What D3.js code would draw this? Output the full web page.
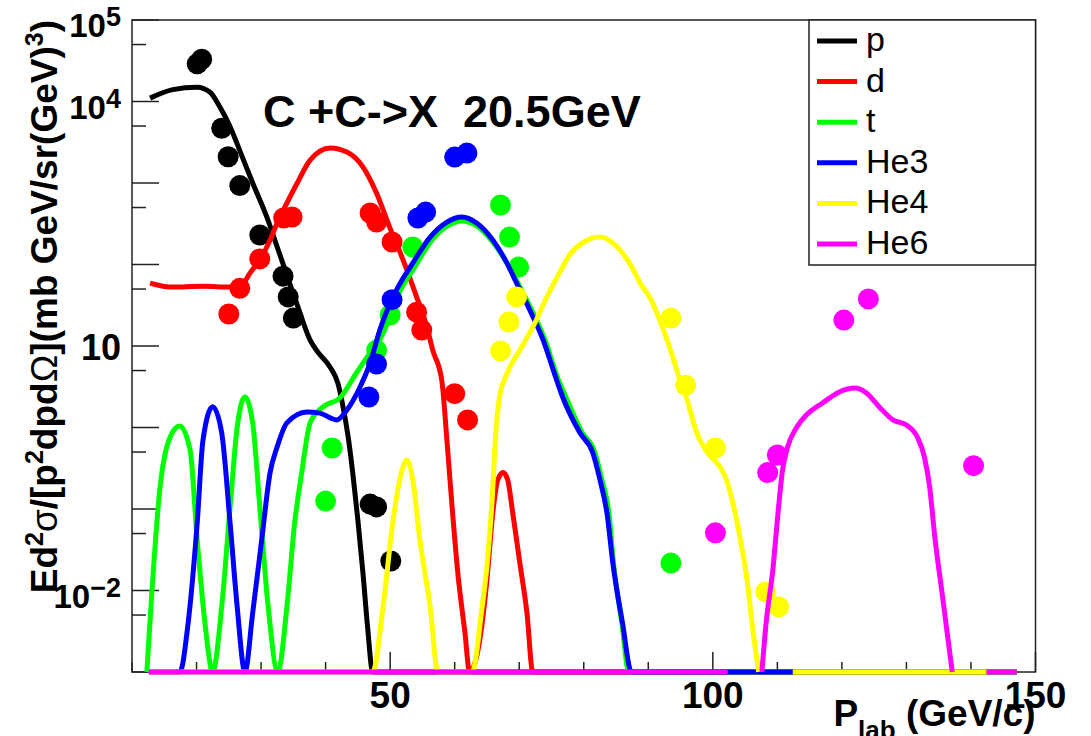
<!DOCTYPE html>
<html>
<head>
<meta charset="utf-8">
<script src="https://cdn.jsdelivr.net/npm/d3@7"></script>
<style>
body { margin: 0; background: #fff; }
svg { font-family: "Liberation Sans", Arial, Helvetica, sans-serif; }
.bold { font-weight: bold; }
.title { font-weight: bold; white-space: pre; }
</style>
</head>
<body>
<div id="chart"></div>
<script>
// species shown in the legend (drawing order)
var species = ["p", "d", "t", "He3", "He4", "He6"];
var colors = ["#000000", "#ff0000", "#00ff00", "#0000ff", "#ffff00", "#ff00ff"];

var xTicks = [10, 20, 30, 40, 50, 60, 70, 80, 90, 100, 110, 120, 130, 140, 150];
var xLabels = [50, 100, 150];
var yDecades = [1e-3, 1e-2, 1e-1, 1, 10, 1e2, 1e3, 1e4, 1e5];
var yHalf = [5e-3, 5e-2, 5e-1, 5, 50, 5e2, 5e3, 5e4];
var yLabels = [{v: 1e5, base: "10", exp: "5"}, {v: 1e4, base: "10", exp: "4"},
               {v: 10, base: "10", exp: ""}, {v: 1e-2, base: "10", exp: "\u22122"}];

// model curves: [P_lab, value]; 0 = below the axis minimum, null = gap
var pCurve = [[12.8,1.1e4],[16.3,1.4e4],[20.1,1.5e4],[22.1,1.3e4],[23.6,8.6e3],[25.2,4.9e3],[26.7,2.5e3],
  [28.7,1.0e3],[30.9,380],[32.5,164],[35.6,32],[37.6,11.8],[38.8,8.4],[40.7,5.5],[41.9,3.5],[42.7,1.8],
  [43.5,0.76],[44.2,0.28],[45.0,0.073],[45.8,0.016],[46.5,0.0036],[47.3,0],[147.1,0]];

var dCurve = [[12.8,59],[15.9,53],[21.0,54],[25.2,53],[27.0,56],[28.3,79],[29.8,114],[31.4,200],[32.5,323],
  [33.7,508],[35.6,1000],[37.6,1910],[40.7,2690],[43.3,2400],[45.8,1570],[47.9,750],[49.9,290],[52.0,114],
  [54.1,40],[55.7,17],[56.6,8.9],[58.0,3.8],[58.8,0.70],[59.6,0.106],[60.5,0.016],[61.6,0.003],[62.3,0],
  [63.9,0.0025],[65.0,0.0135],[65.9,0.089],[66.7,0.23],[67.5,0.28],[68.2,0.23],[69.0,0.089],[70.1,0.0217],
  [71.2,0.0053],[72.1,0],[147.1,0]];

var tCurve = [[12.3,0],[13.1,0.0101],[14.3,0.171],[15.9,0.76],[17.4,1.04],[19.0,0.53],[20.1,0.042],[21.3,0.004],
  [22.5,0],[23.9,0.0063],[25.2,0.106],[26.3,1.01],[27.5,2.37],[28.7,1.14],[29.8,0.106],[31.1,0.0063],[32.6,0],
  [34.0,0.0063],[35.2,0.067],[36.3,0.28],[37.6,1.14],[39.6,1.79],[42.2,2.3],[44.8,4.7],[46.9,8.2],[48.1,10.9],
  [48.9,14.4],[51.4,45],[53.8,93],[56.5,200],[58.9,297],[61.1,342],[63.4,297],[65.9,189],[68.2,101],[69.8,59],
  [71.8,29],[74.0,11.9],[76.1,3.8],[77.1,2.5],[79.7,0.88],[81.7,0.50],[82.8,0.23],[83.9,0.089],[84.6,0.022],
  [85.9,0.004],[87.0,0],[147.1,0]];

var he3Curve = [[12.6,0],[17.4,0],[18.7,0.004],[20.1,0.067],[21.0,0.70],[22.5,1.8],[23.9,0.86],[25.2,0.067],
  [26.3,0.0063],[27.5,0],[28.7,0.0053],[30.1,0.042],[31.4,0.28],[32.5,0.58],[34.0,1.14],[37.1,1.55],[39.1,1.5],
  [41.7,1.24],[43.3,1.64],[45.3,3.1],[46.9,6.2],[48.4,15.7],[51.0,49],[53.5,104],[56.2,217],[58.8,332],[61.1,383],
  [63.4,323],[65.9,200],[68.1,104],[69.6,59],[71.6,28],[73.7,11.9],[75.8,3.8],[76.7,2.4],[79.4,0.86],[81.4,0.49],
  [82.5,0.23],[83.6,0.089],[84.5,0.022],[86.0,0.004],[87.4,0],[112.4,0]];

var he4Curve = [[12.6,0],[47.3,0],[48.9,0.0063],[50.4,0.067],[51.5,0.23],[52.6,0.40],[53.5,0.23],[54.6,0.042],
  [56.2,0.0063],[57.4,0],[62.7,0],[64.2,0.0058],[65.1,0.024],[65.8,0.129],[66.4,0.93],[67.0,2.5],[67.8,4.0],
  [68.5,5.4],[70.1,8.9],[72.1,17],[74.3,40],[76.3,81],[77.8,131],[79.8,184],[82.5,217],[84.5,184],[87.1,104],
  [89.1,53],[90.2,40],[92.2,17],[93.8,7.3],[94.9,3.8],[96.0,2.2],[97.5,0.86],[99.1,0.50],[101.1,0.33],[102.1,0.23],
  [103.1,0.119],[104.2,0.045],[105.3,0.0135],[106.2,0.0033],[107.1,0],null,[112.4,0],[142.4,0]];

var he6Curve = [[12.6,0],[102.3,0],null,[107.6,0],[108.3,0.0043],[109.3,0.018],[110.0,0.073],[110.8,0.30],
  [111.6,0.58],[113.0,1.01],[114.5,1.42],[117.0,2.0],[119.6,2.73],[122.0,3.05],[123.8,2.65],[125.8,1.79],
  [127.9,1.24],[130.0,1.07],[131.7,0.76],[132.8,0.43],[133.6,0.186],[134.4,0.045],[135.4,0.011],[136.4,0.0027],
  [137.1,0],null,[142.4,0],[147.1,0]];

// measured points: [P_lab, value]
var pPoints = [[20.1,2.9e4],[20.8,3.3e4],[23.9,4.7e3],[24.9,2.1e3],[26.7,930],[29.8,230],[33.4,72],[34.2,40],
  [35.0,22],[46.9,0.115],[47.9,0.106],[50.1,0.023]];
var dPoints = [[25.0,24.7],[26.7,51],[29.8,117],[33.5,372],[34.8,383],[46.9,429],[47.9,332],[50.3,189],
  [54.1,26],[54.9,15.7],[60.0,2.6],[62.0,1.24]];
var tPoints = [[40.0,0.125],[41.0,0.56],[47.9,8.9],[50.0,24],[53.5,164],[67.1,537],[68.5,217],[69.9,93],[93.5,0.0217]];
var he3Points = [[46.7,2.37],[47.9,6.0],[50.3,37],[54.3,372],[55.5,440],[60.0,2080],[61.9,2330]];
var he4Points = [[67.1,8.7],[68.4,19.7],[69.6,40],[93.5,22],[95.8,3.3],[100.4,0.56],[108.2,0.0096],[110.2,0.0063]];
var he6Points = [[100.4,0.051],[108.5,0.28],[110.0,0.46],[120.3,20.8],[124.1,37.8],[140.4,0.34]];

var curves = [pCurve, dCurve, tCurve, he3Curve, he4Curve, he6Curve];
var points = [pPoints, dPoints, tPoints, he3Points, he4Points, he6Points];

var W = 1091, H = 736;
var margin = {left: 132, right: 55.5, top: 20, bottom: 64};

var svg = d3.select("#chart").append("svg")
    .attr("width", W)
    .attr("height", H);

var x = d3.scaleLinear().domain([10, 150]).range([margin.left, W - margin.right]);
var y = d3.scaleLog().domain([1e-3, 1e5]).range([H - margin.bottom, margin.top]);
var yMin = 1e-3;

function yv(v) { return y(Math.max(v, yMin)); }

// frame
svg.append("rect")
    .attr("x", x(10)).attr("y", y(1e5))
    .attr("width", x(150) - x(10)).attr("height", y(1e-3) - y(1e5))
    .attr("fill", "none").attr("stroke", "#222").attr("stroke-width", 1.5);

// x ticks
svg.append("g").selectAll("line")
    .data(xTicks).enter().append("line")
    .attr("x1", function(d){ return x(d); })
    .attr("x2", function(d){ return x(d); })
    .attr("y1", y(1e-3))
    .attr("y2", function(d){ return y(1e-3) - (d % 50 === 0 ? 20 : 10); })
    .attr("stroke", "#222").attr("stroke-width", 1.5);

svg.append("g").selectAll("text")
    .data(xLabels).enter().append("text")
    .attr("class", "bold")
    .attr("x", function(d){ return x(d); })
    .attr("y", 708)
    .attr("text-anchor", "middle")
    .style("font-size", "37px")
    .text(function(d){ return d; });

// y ticks
svg.append("g").selectAll("line")
    .data(yDecades).enter().append("line")
    .attr("x1", x(10)).attr("x2", x(10) + 27)
    .attr("y1", function(d){ return y(d); })
    .attr("y2", function(d){ return y(d); })
    .attr("stroke", "#222").attr("stroke-width", 1.5);

svg.append("g").selectAll("line")
    .data(yHalf).enter().append("line")
    .attr("x1", x(10)).attr("x2", x(10) + 14)
    .attr("y1", function(d){ return y(d); })
    .attr("y2", function(d){ return y(d); })
    .attr("stroke", "#222").attr("stroke-width", 1.5);

var yl = svg.append("g").selectAll("text")
    .data(yLabels).enter().append("text")
    .attr("class", "bold")
    .attr("x", 121)
    .attr("y", function(d){ return y(d.v) + (d.exp ? 17 : 14); })
    .attr("text-anchor", "end")
    .style("font-size", function(d){ return d.exp ? "33px" : "36px"; });
yl.append("tspan").text(function(d){ return d.base; });
yl.append("tspan")
    .attr("dy", function(d){ return d.exp ? -11 : 0; })
    .style("font-size", "27px")
    .text(function(d){ return d.exp; });

// axis titles
var yt = svg.append("text")
    .attr("class", "bold")
    .attr("transform", "translate(57," + margin.top + ") rotate(-90)")
    .attr("text-anchor", "end")
    .style("font-size", "37px");
yt.append("tspan").text("Ed");
yt.append("tspan").attr("dy", -14).style("font-size", "25px").text("2");
yt.append("tspan").attr("dy", 14).style("font-weight", "normal").text("\u03c3");
yt.append("tspan").text("/[p");
yt.append("tspan").attr("dy", -14).style("font-size", "25px").text("2");
yt.append("tspan").attr("dy", 14).text("dpd");
yt.append("tspan").style("font-weight", "normal").text("\u03a9");
yt.append("tspan").text("](mb GeV/sr(GeV)");
yt.append("tspan").attr("dy", -14).style("font-size", "25px").text("3");
yt.append("tspan").attr("dy", 14).text(")");

var xt = svg.append("text")
    .attr("class", "bold")
    .attr("x", x(150))
    .attr("y", 726)
    .attr("text-anchor", "end")
    .style("font-size", "37px");
xt.append("tspan").text("P");
xt.append("tspan").attr("dy", 13).style("font-size", "26px").text("lab");
xt.append("tspan").attr("dy", -13).style("white-space", "pre").text(" (GeV/c)");

// curves (monotone interpolation: smooth tops, no overshoot below the axis)
var line = d3.line()
    .defined(function(d){ return d !== null; })
    .x(function(d){ return x(d[0]); })
    .y(function(d){ return yv(d[1]); })
    .curve(d3.curveMonotoneX);

species.forEach(function(s, i) {
    svg.append("path")
        .datum(curves[i])
        .attr("d", line)
        .attr("fill", "none")
        .attr("stroke", colors[i])
        .attr("stroke-width", 5)
        .attr("stroke-linejoin", "round");

    svg.append("g").selectAll("circle")
        .data(points[i]).enter().append("circle")
        .attr("cx", function(d){ return x(d[0]); })
        .attr("cy", function(d){ return yv(d[1]); })
        .attr("r", 10.5)
        .attr("fill", colors[i]);
});

// title
svg.append("text")
    .attr("class", "title")
    .attr("x", 263)
    .attr("y", 127)
    .style("font-size", "45px")
    .text("C +C->X  20.5GeV");

// legend
var leg = svg.append("g");
leg.append("rect")
    .attr("x", 809).attr("y", margin.top)
    .attr("width", x(150) - 809).attr("height", 245)
    .attr("fill", "#fff").attr("stroke", "#222").attr("stroke-width", 1.5);

var item = leg.selectAll(".item")
    .data(species).enter().append("g")
    .attr("class", "item")
    .attr("transform", function(d, i){ return "translate(0," + (41 + i * 40.6) + ")"; });

item.append("line")
    .attr("x1", 817).attr("x2", 857)
    .attr("stroke", function(d, i){ return colors[i]; })
    .attr("stroke-width", 5);

item.append("text")
    .attr("x", 866)
    .attr("y", 10)
    .style("font-size", "34px")
    .text(function(d){ return d; });
</script>
</body>
</html>
